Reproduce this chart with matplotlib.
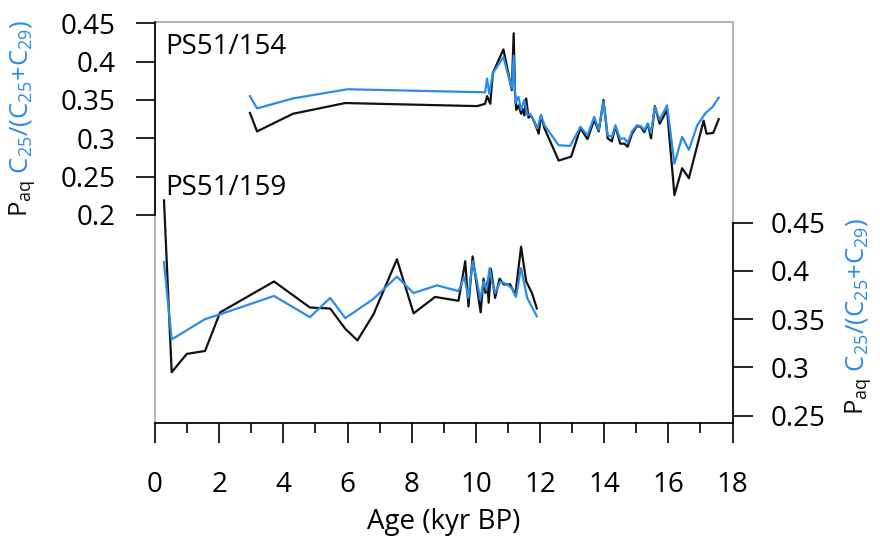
import matplotlib
matplotlib.use('Agg')
import matplotlib.pyplot as plt
from matplotlib.patches import Rectangle

plt.rcParams['font.family'] = ['Open Sans', 'DejaVu Sans']
plt.rcParams['mathtext.fontset'] = 'custom'
plt.rcParams['mathtext.rm'] = 'Open Sans'
plt.rcParams['mathtext.it'] = 'Open Sans:italic'

# PS51/154 (upper, left axis)
age_154_paq = [2.96, 3.18, 4.3, 5.93, 10.04, 10.29, 10.35, 10.45, 10.53, 10.86,
               11.12, 11.18, 11.22, 11.26, 11.33, 11.41, 11.47, 11.51, 11.57, 11.64,
               11.71, 11.82, 11.96, 12.03, 12.14, 12.58, 12.97, 13.26, 13.48, 13.69,
               13.83, 13.98, 14.11, 14.24, 14.35, 14.5, 14.63, 14.73, 14.87, 15.02,
               15.14, 15.25, 15.36, 15.46, 15.58, 15.73, 15.96, 16.19, 16.43, 16.64,
               17.1, 17.19, 17.4, 17.57]
paq_154 = [0.333, 0.309, 0.332, 0.346, 0.342, 0.345, 0.355, 0.345, 0.385, 0.416,
           0.363, 0.437, 0.361, 0.337, 0.343, 0.332, 0.338, 0.330, 0.352, 0.327,
           0.330, 0.322, 0.306, 0.330, 0.313, 0.271, 0.276, 0.313, 0.299, 0.324,
           0.309, 0.350, 0.300, 0.296, 0.316, 0.293, 0.293, 0.289, 0.306, 0.316,
           0.315, 0.308, 0.319, 0.300, 0.342, 0.319, 0.337, 0.226, 0.261, 0.248,
           0.323, 0.306, 0.307, 0.325]

age_154_c25 = [2.96, 3.18, 4.3, 6.0, 10.29, 10.35, 10.42, 10.53, 10.86, 11.12,
               11.18, 11.23, 11.33, 11.41, 11.51, 11.61, 11.69, 11.8, 11.92, 12.03,
               12.14, 12.58, 12.94, 13.26, 13.48, 13.69, 13.83, 13.98, 14.11, 14.24,
               14.35, 14.5, 14.63, 14.73, 14.87, 15.02, 15.14, 15.25, 15.36, 15.46,
               15.58, 15.73, 15.96, 16.19, 16.43, 16.64, 16.9, 17.16, 17.38, 17.57]
c25_154 = [0.355, 0.339, 0.352, 0.364, 0.360, 0.378, 0.358, 0.385, 0.406, 0.365,
           0.408, 0.346, 0.354, 0.337, 0.350, 0.330, 0.332, 0.324, 0.313, 0.330,
           0.317, 0.291, 0.290, 0.315, 0.304, 0.328, 0.311, 0.348, 0.304, 0.302,
           0.317, 0.299, 0.300, 0.294, 0.309, 0.317, 0.316, 0.311, 0.319, 0.307,
           0.341, 0.324, 0.343, 0.267, 0.302, 0.285, 0.317, 0.333, 0.341, 0.353]

# PS51/159 (lower, right axis)
age_159_paq = [0.28, 0.52, 0.99, 1.56, 2.03, 3.71, 4.83, 5.46, 5.93, 6.31,
               6.81, 7.54, 8.06, 8.73, 9.46, 9.67, 9.77, 9.9, 9.98, 10.15,
               10.24, 10.3, 10.36, 10.4, 10.47, 10.6, 10.74, 10.87, 10.97, 11.07,
               11.23, 11.41, 11.57, 11.75, 11.9]
paq_159 = [0.473, 0.295, 0.314, 0.317, 0.357, 0.389, 0.362, 0.361, 0.340, 0.328,
           0.355, 0.412, 0.356, 0.373, 0.369, 0.410, 0.363, 0.415, 0.396, 0.357,
           0.392, 0.377, 0.389, 0.367, 0.402, 0.372, 0.392, 0.386, 0.386, 0.386,
           0.375, 0.425, 0.389, 0.377, 0.361]

age_159_c25 = [0.28, 0.52, 1.56, 2.03, 3.71, 4.83, 5.46, 5.93, 6.81, 7.54,
               8.06, 8.79, 9.46, 9.64, 9.77, 9.9, 10.02, 10.14, 10.24, 10.33,
               10.43, 10.5, 10.6, 10.76, 10.97, 11.12, 11.25, 11.41, 11.6, 11.9]
c25_159 = [0.409, 0.329, 0.350, 0.355, 0.374, 0.352, 0.372, 0.351, 0.371, 0.394,
           0.377, 0.385, 0.379, 0.394, 0.372, 0.410, 0.392, 0.370, 0.389, 0.380,
           0.403, 0.389, 0.377, 0.389, 0.386, 0.382, 0.373, 0.403, 0.372, 0.353]

left_ticks = [0.2, 0.25, 0.3, 0.35, 0.4, 0.45]
left_labels = ['0.2', '0.25', '0.3', '0.35', '0.4', '0.45']
right_ticks = [0.25, 0.3, 0.35, 0.4, 0.45]
right_labels = ['0.25', '0.3', '0.35', '0.4', '0.45']

BLUE = '#2a8ce6'
BLACK = '#111111'
GREY = '#a6a6a6'
FS = 20

W, H = 880, 537
fig = plt.figure(figsize=(W / 100, H / 100), dpi=100)
ax = fig.add_axes([155 / W, 114 / H, 577.5 / W, 401 / H])
ax2 = ax.twinx()

ax.plot(age_154_paq, paq_154, color=BLACK, lw=1.6)
ax.plot(age_154_c25, c25_154, color=BLUE, lw=1.6)
ax2.plot(age_159_paq, paq_159, color=BLACK, lw=1.6)
ax2.plot(age_159_c25, c25_159, color=BLUE, lw=1.6)

ax.set_xlim(0, 18)
ax.set_ylim(-0.0713, 0.4517)
ax2.set_ylim(0.2424, 0.6578)

# grey frame
ax.add_patch(Rectangle((0, 0), 1, 1, transform=ax.transAxes, fill=False,
                       ec=GREY, lw=1.2, clip_on=False, zorder=0))

for s in ['top', 'right']:
    ax.spines[s].set_visible(False)
for s in ['top', 'left', 'bottom']:
    ax2.spines[s].set_visible(False)
ax.spines['left'].set_bounds(0.2, 0.4517)
ax.spines['left'].set_linewidth(1.2)
ax.spines['bottom'].set_linewidth(1.2)
ax2.spines['right'].set_bounds(0.2424, 0.45)
ax2.spines['right'].set_linewidth(1.2)

ax.set_xticks(range(0, 19, 2))
ax.set_xticks(range(1, 18, 2), minor=True)
ax.tick_params(axis='x', which='major', direction='out', length=14.4, width=1.2,
               pad=20, labelsize=FS)
ax.tick_params(axis='x', which='minor', direction='out', length=7.2, width=1.2)
ax.set_yticks(left_ticks)
ax.set_yticklabels(left_labels)
ax.tick_params(axis='y', direction='out', length=13.7, width=1.2, pad=15, labelsize=FS)
ax2.set_yticks(right_ticks)
ax2.set_yticklabels(right_labels)
ax2.tick_params(axis='y', direction='out', length=14.4, width=1.2, pad=13, labelsize=FS)

ax.set_xlabel('Age (kyr BP)', fontsize=FS, labelpad=7)

ax.text(0.017, 0.920, 'PS51/154', transform=ax.transAxes, fontsize=FS, va='baseline')
ax.text(0.017, 0.5686, 'PS51/159', transform=ax.transAxes, fontsize=FS, va='baseline')

# two-coloured rotated axis labels
renderer = fig.canvas.get_renderer()


def stacked_label(x, y, parts, size):
    for s, c in parts:
        t = fig.text(x / W, 1 - y / H, s, rotation=90, rotation_mode='anchor',
                     ha='left', va='baseline', color=c, fontsize=size)
        bb = t.get_window_extent(renderer)
        y -= bb.height


label_parts = [('P$_\\mathrm{aq}$', BLACK),
               (' C$_\\mathrm{25}$/(C$_\\mathrm{25}$+C$_\\mathrm{29}$)', BLUE)]
stacked_label(27, 217, label_parts, 18.5)
stacked_label(863, 415, label_parts, 18.5)

fig.savefig('out.png', dpi=100)
